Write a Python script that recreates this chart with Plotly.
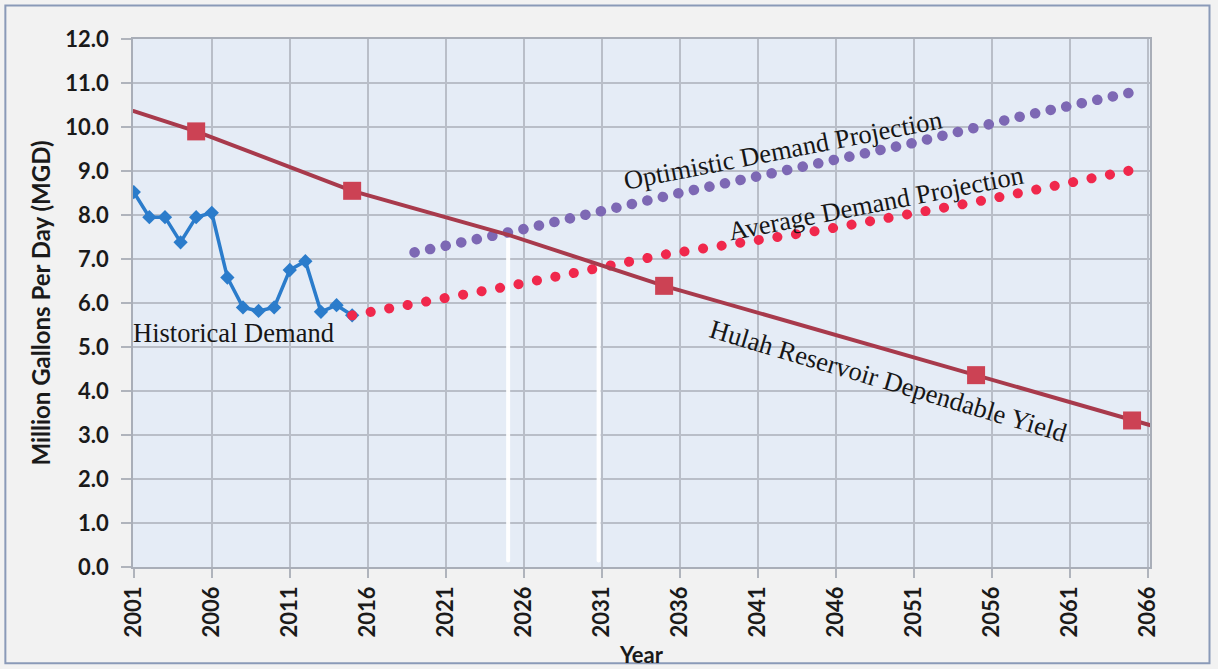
import plotly.graph_objects as go

# ---------------- data ----------------
hist_years = list(range(2001, 2016))
hist_values = [8.52, 7.95, 7.95, 7.38, 7.95, 8.05, 6.58, 5.90, 5.82, 5.90, 6.75, 6.95, 5.80, 5.95, 5.72]

yield_years = [2001, 2005, 2015, 2025, 2035, 2055, 2065, 2066.2]
yield_values = [10.36, 9.90, 8.55, 7.55, 6.39, 4.36, 3.33, 3.22]
yield_marker_years = [2005, 2015, 2035, 2055, 2065]
yield_marker_values = [9.90, 8.55, 6.39, 4.36, 3.33]

avg_years = [2015, 2025, 2035, 2045, 2055, 2065]
avg_values = [5.72, 6.38, 7.10, 7.65, 8.30, 9.02]

opt_years = [2019, 2026, 2036, 2046, 2051, 2058, 2065]
opt_values = [7.15, 7.68, 8.50, 9.27, 9.64, 10.25, 10.79]

drop_years = [2025.0, 2030.8]
drop_values = [7.52, 6.82]

x_ticks = list(range(2001, 2067, 5))
y_ticks = [i * 1.0 for i in range(0, 13)]

labels = [
    dict(text="Historical Demand", x=2007.4, y=5.32, angle=0),
    dict(text="Optimistic Demand Projection", x=2042.6, y=9.48, angle=-11),
    dict(text="Average Demand Projection", x=2048.6, y=8.27, angle=-11),
    dict(text="Hulah Reservoir Dependable Yield", x=2049.4, y=4.23, angle=16.5),
]

# ---------------- figure ----------------
fig = go.Figure()

for xv, yv in zip(drop_years, drop_values):
    fig.add_trace(go.Scatter(x=[xv, xv], y=[0.15, yv], mode="lines",
                             line=dict(color="rgba(255,255,255,0.95)", width=4),
                             hoverinfo="skip", showlegend=False))

fig.add_trace(go.Scatter(x=hist_years, y=hist_values, mode="lines+markers",
                         line=dict(color="#2b7ccb", width=3.5),
                         marker=dict(symbol="diamond", size=11, color="#2b7ccb"),
                         name="Historical Demand", showlegend=False))

fig.add_trace(go.Scatter(x=avg_years, y=avg_values, mode="lines",
                         line=dict(color="#f0284c", width=10, dash="0.1px,18.7px"),
                         name="Average Demand Projection", showlegend=False))

fig.add_trace(go.Scatter(x=opt_years, y=opt_values, mode="lines",
                         line=dict(color="#7d68b4", width=10.5, dash="0.1px,15.8px"),
                         name="Optimistic Demand Projection", showlegend=False))

fig.add_trace(go.Scatter(x=yield_years, y=yield_values, mode="lines",
                         line=dict(color="#a83a4c", width=4),
                         name="Hulah Reservoir Dependable Yield", showlegend=False))
fig.add_trace(go.Scatter(x=yield_marker_years, y=yield_marker_values, mode="markers",
                         marker=dict(symbol="square", size=18, color="#cc4254"),
                         hoverinfo="skip", showlegend=False))

for lab in labels:
    fig.add_annotation(x=lab["x"], y=lab["y"], text=lab["text"], showarrow=False,
                       textangle=lab["angle"], xanchor="center", yanchor="middle",
                       font=dict(family="Liberation Serif, Times New Roman, serif",
                                 size=26.5, color="#161616"))

axis_font = dict(family="Lato, Open Sans, sans-serif", size=22, color="#1a1a1a", weight="bold")

fig.update_xaxes(range=[2000.95, 2066.15], tickmode="array", tickvals=x_ticks,
                 ticktext=[str(v) for v in x_ticks], tickangle=-90,
                 tickfont=axis_font, showgrid=True, gridcolor="#b9bec8", gridwidth=1.5,
                 ticks="outside", ticklen=9, tickcolor="#b0b4bc", tickwidth=1.5,
                 showline=True, linecolor="#a9aeb8", linewidth=1.5, mirror=True,
                 zeroline=False, automargin=False,
                 title=dict(text="Year", font=dict(family="Lato, sans-serif", size=22,
                                                   color="#1a1a1a", weight="bold"),
                            standoff=11))
fig.update_yaxes(range=[0, 12], tickmode="array", tickvals=y_ticks,
                 ticktext=["%.1f" % v for v in y_ticks], tickfont=axis_font,
                 showgrid=True, gridcolor="#b9bec8", gridwidth=1.5,
                 ticks="outside", ticklen=10, tickcolor="#b0b4bc", tickwidth=1.5,
                 ticklabelstandoff=8,
                 showline=True, linecolor="#a9aeb8", linewidth=1.5, mirror=True,
                 zeroline=False, automargin=False,
                 title=dict(text="Million Gallons Per Day (MGD)",
                            font=dict(family="Lato, sans-serif", size=24,
                                      color="#1a1a1a", weight="bold"),
                            standoff=8))

fig.update_layout(
    width=1218, height=669,
    margin=dict(l=133, r=68, t=39, b=102),
    paper_bgcolor="#f2f2f2",
    plot_bgcolor="#e5ecf6",
    showlegend=False,
    shapes=[dict(type="rect", xref="paper", yref="paper",
                 x0=-0.1255, x1=1.0585, y0=-0.1825, y1=1.0635,
                 line=dict(color="#8a9ab8", width=2), fillcolor="rgba(0,0,0,0)",
                 layer="below")],
)

post = ("var s=document.createElement('style');"
        "s.textContent='.scatterlayer .js-line{stroke-linecap:round;}';"
        "document.head.appendChild(s);")

fig.write_html("out.html", post_script=post)
